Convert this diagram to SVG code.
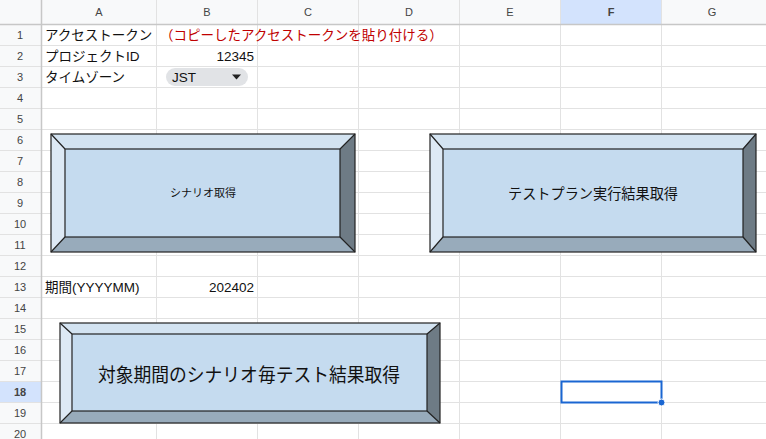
<svg xmlns="http://www.w3.org/2000/svg" width="766" height="439" viewBox="0 0 766 439">
<style>
.g{stroke:#e2e2e2;stroke-width:1}
.h{font-family:"Liberation Sans","Noto Sans CJK JP",sans-serif;font-size:11px;fill:#444;text-anchor:middle}
.t{font-family:"Liberation Sans","Noto Sans CJK JP",sans-serif;font-size:13.5px;fill:#111}
.b{font-family:"Noto Sans CJK JP",sans-serif;fill:#111;text-anchor:middle}
.o{stroke:#222;stroke-width:1.2;fill:none}
</style>
<rect width="766" height="439" fill="#fff"/>
<g id="headers">
<rect x="0" y="0" width="766" height="24" fill="#f8f9fa"/>
<rect x="0" y="0" width="41" height="439" fill="#f8f9fa"/>
<rect x="561" y="0" width="100" height="24" fill="#d3e3fd"/>
<rect x="0" y="381" width="41" height="21" fill="#d3e3fd"/>
</g>
<g id="grid">
<path class="g" d="M41.5 0V439M156.5 0V439M257.5 0V439M358.5 0V439M459.5 0V439M560.5 0V439M661.5 0V439M0 24.5H766M0 45.5H766M0 66.5H766M0 87.5H766M0 108.5H766M0 129.5H766M0 150.5H766M0 171.5H766M0 192.5H766M0 213.5H766M0 234.5H766M0 255.5H766M0 276.5H766M0 297.5H766M0 318.5H766M0 339.5H766M0 360.5H766M0 381.5H766M0 402.5H766M0 423.5H766"/>
<path d="M0 24.5H766M41.5 0V439" stroke="#c7c7c7" stroke-width="1.5"/>
</g>
<g id="labels">
<text class="h" x="99" y="16">A</text><text class="h" x="207" y="16">B</text><text class="h" x="308" y="16">C</text><text class="h" x="409" y="16">D</text><text class="h" x="510" y="16">E</text><text class="h" x="611" y="16" font-weight="bold" fill="#0b57d0">F</text><text class="h" x="712" y="16">G</text>
<text class="h" x="20" y="39">1</text><text class="h" x="20" y="60">2</text><text class="h" x="20" y="81">3</text><text class="h" x="20" y="102">4</text><text class="h" x="20" y="123">5</text><text class="h" x="20" y="144">6</text><text class="h" x="20" y="165">7</text><text class="h" x="20" y="186">8</text><text class="h" x="20" y="207">9</text><text class="h" x="20" y="228">10</text><text class="h" x="20" y="249">11</text><text class="h" x="20" y="270">12</text><text class="h" x="20" y="291">13</text><text class="h" x="20" y="312">14</text><text class="h" x="20" y="333">15</text><text class="h" x="20" y="354">16</text><text class="h" x="20" y="375">17</text><text class="h" x="20" y="396" font-weight="bold" fill="#0b57d0">18</text><text class="h" x="20" y="417">19</text><text class="h" x="20" y="438">20</text>
</g>
<g id="cells">
<text class="t" x="45" y="40">アクセストークン</text>
<text class="t" x="160" y="40" style="fill:#c00000">（コピーしたアクセストークンを貼り付ける）</text>
<text class="t" x="45" y="61">プロジェクトID</text>
<text class="t" x="254" y="61" text-anchor="end">12345</text>
<text class="t" x="45" y="82">タイムゾーン</text>
<rect x="166" y="68" width="82" height="18" rx="9" fill="#e1e3e6"/>
<text class="t" x="172" y="82">JST</text>
<path d="M232 74.5h9l-4.5 5z" fill="#222"/>
<text class="t" x="45" y="292">期間(YYYYMM)</text>
<text class="t" x="254" y="292" text-anchor="end">202402</text>
</g>
<g id="btn1">
<rect x="51" y="134" width="304" height="118" fill="#c5dbef"/>
<path d="M51 134H355L340 149H65Z" fill="#d3e3f1"/>
<path d="M51 134L65 149V237L51 252Z" fill="#dde9f5"/>
<path d="M355 134L340 149V237L355 252Z" fill="#6e7b85"/>
<path d="M51 252L65 237H340L355 252Z" fill="#98abbb"/>
<rect class="o" x="65" y="149" width="275" height="88"/>
<path class="o" d="M51 134L65 149M355 134L340 149M51 252L65 237M355 252L340 237"/>
<rect class="o" x="51" y="134" width="304" height="118"/>
<text class="b" x="203" y="197" font-size="11">シナリオ取得</text>
</g>
<g id="btn2">
<rect x="430" y="134" width="326" height="118" fill="#c5dbef"/>
<path d="M430 134H756L743 149H443Z" fill="#d3e3f1"/>
<path d="M430 134L443 149V237L430 252Z" fill="#dde9f5"/>
<path d="M756 134L743 149V237L756 252Z" fill="#6e7b85"/>
<path d="M430 252L443 237H743L756 252Z" fill="#98abbb"/>
<rect class="o" x="443" y="149" width="300" height="88"/>
<path class="o" d="M430 134L443 149M756 134L743 149M430 252L443 237M756 252L743 237"/>
<rect class="o" x="430" y="134" width="326" height="118"/>
<text class="b" x="593" y="199" font-size="14.5" textLength="170" lengthAdjust="spacingAndGlyphs">テストプラン実行結果取得</text>
</g>
<g id="btn3">
<rect x="60" y="323" width="380" height="100" fill="#c5dbef"/>
<path d="M60 323H440L427 334H72Z" fill="#d3e3f1"/>
<path d="M60 323L72 334V411L60 423Z" fill="#dde9f5"/>
<path d="M440 323L427 334V411L440 423Z" fill="#6e7b85"/>
<path d="M60 423L72 411H427L440 423Z" fill="#98abbb"/>
<rect class="o" x="72" y="334" width="355" height="77"/>
<path class="o" d="M60 323L72 334M440 323L427 334M60 423L72 411M440 423L427 411"/>
<rect class="o" x="60" y="323" width="380" height="100"/>
<text class="b" x="249" y="382" font-size="19" textLength="302" lengthAdjust="spacingAndGlyphs">対象期間のシナリオ毎テスト結果取得</text>
</g>
<g id="selection">
<rect x="561.5" y="381.5" width="100" height="21" fill="none" stroke="#1a66d2" stroke-width="2"/>
<circle cx="661.5" cy="402.5" r="3.5" fill="#1a66d2" stroke="#fff" stroke-width="1"/>
</g>
</svg>
